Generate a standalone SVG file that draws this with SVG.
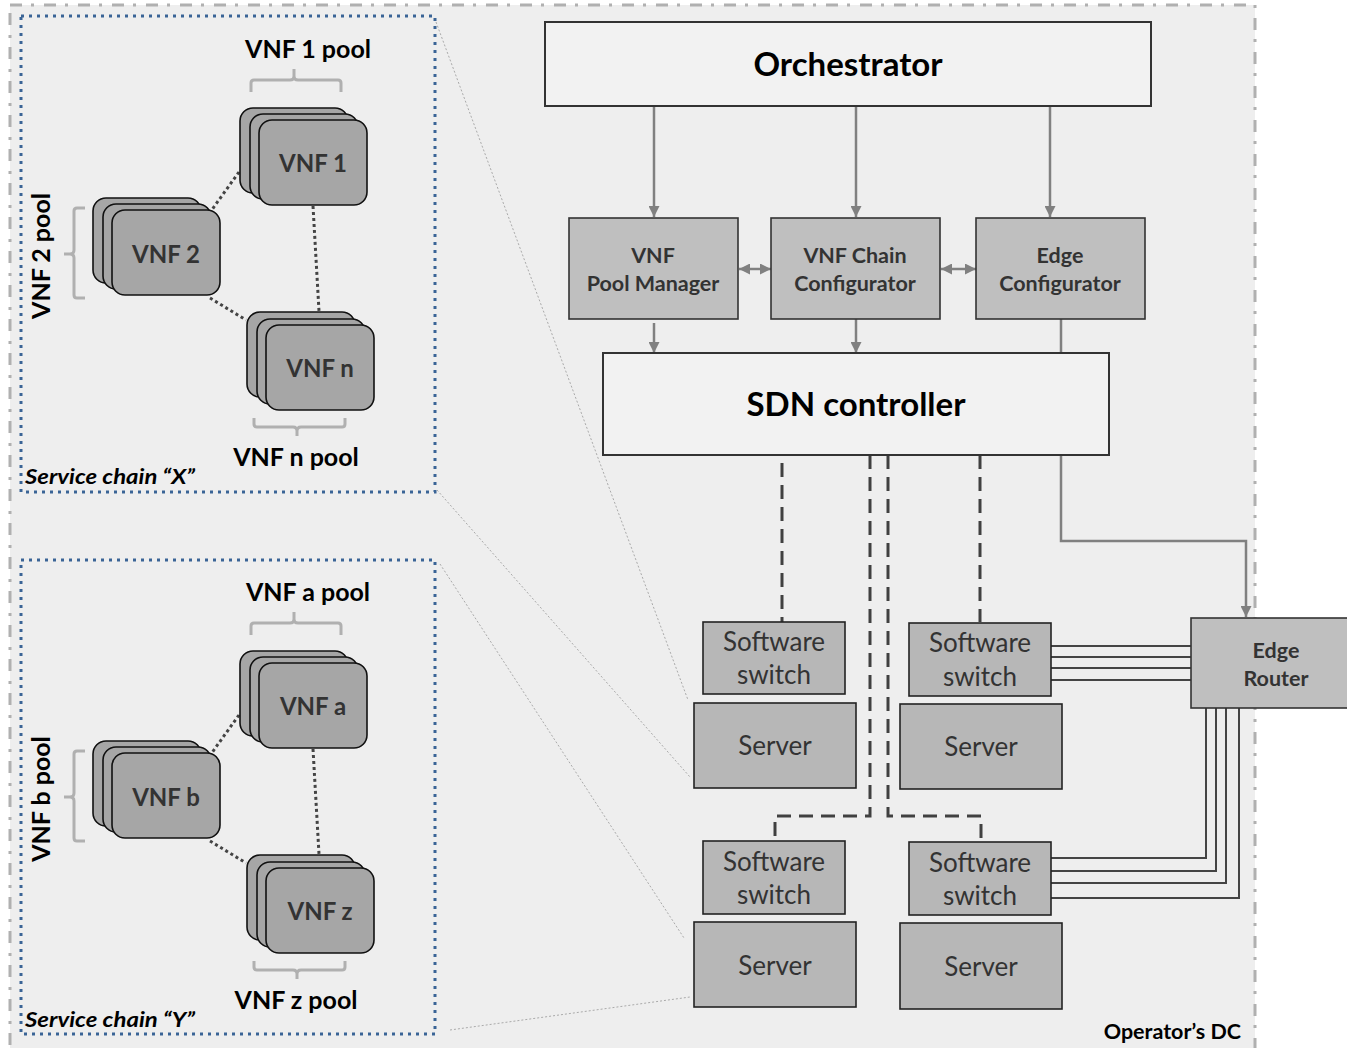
<svg xmlns="http://www.w3.org/2000/svg" width="1347" height="1048" viewBox="0 0 1347 1048">
<defs>
<style>
.t{font-family:Lato,"Open Sans","Liberation Sans",sans-serif}
.b{font-weight:bold}
.blk{fill:#000}
.dk{fill:#333}
.vnf{fill:#a6a6a6;stroke:#111;stroke-width:1.6}
.mod{fill:#bfbfbf;stroke:#333;stroke-width:1.6}
.hw{fill:#b7b7b7;stroke:#222;stroke-width:1.6}
.wb{fill:#f2f2f2;stroke:#333;stroke-width:2}
.chain{fill:none;stroke:#3a6496;stroke-width:3;stroke-dasharray:3 5}
.brace{fill:none;stroke:#b0b0b0;stroke-width:3}
.dot{fill:none;stroke:#444;stroke-width:3;stroke-dasharray:3 3}
.arr{fill:none;stroke:#808080;stroke-width:2.5}
.dash{fill:none;stroke:#404040;stroke-width:3;stroke-dasharray:14 8}
.wire{fill:none;stroke:#444;stroke-width:2}
.zoom{fill:none;stroke:#aaa;stroke-width:1;stroke-dasharray:2 2}
</style>
<marker id="ah" viewBox="0 0 10 10" refX="10" refY="5" markerWidth="11" markerHeight="11" markerUnits="userSpaceOnUse" orient="auto-start-reverse">
<path d="M0,0 L10,5 L0,10 Z" fill="#808080"/>
</marker>
</defs>
<rect x="0" y="0" width="1347" height="1048" fill="#fff"/>
<rect x="10" y="5" width="1245" height="1060" fill="#eeeeee" stroke="#b0b0b0" stroke-width="3" stroke-dasharray="12 9 3 10"/>

<g id="zoomlines">
<line class="zoom" x1="436" y1="22" x2="688" y2="700"/>
<line class="zoom" x1="437" y1="490" x2="690" y2="777"/>
<line class="zoom" x1="440" y1="564" x2="684" y2="938"/>
<line class="zoom" x1="450" y1="1030" x2="690" y2="997"/>
</g>

<g id="chain-x">
<rect class="chain" x="21" y="16" width="414" height="476"/>
<text class="t b" x="25" y="484" font-size="21" font-style="italic" fill="#000" textLength="170" lengthAdjust="spacingAndGlyphs">Service chain “X”</text>
</g>
<g id="chain-y">
<rect class="chain" x="21" y="560" width="414" height="474"/>
<text class="t b" x="25" y="1027" font-size="21" font-style="italic" fill="#000" textLength="170" lengthAdjust="spacingAndGlyphs">Service chain “Y”</text>
</g>

<g id="vnf-connectors">
<line class="dot" x1="239" y1="172" x2="211" y2="211"/>
<line class="dot" x1="313" y1="206" x2="319" y2="311"/>
<line class="dot" x1="210" y1="298" x2="246" y2="320"/>
<line class="dot" x1="239" y1="715" x2="211" y2="754"/>
<line class="dot" x1="313" y1="749" x2="319" y2="854"/>
<line class="dot" x1="210" y1="841" x2="246" y2="863"/>
</g>

<g id="vnf1">
<rect class="vnf" x="240" y="108" width="108" height="85" rx="13"/>
<rect class="vnf" x="250" y="114" width="108" height="85" rx="13"/>
<rect class="vnf" x="259" y="120" width="108" height="85" rx="13"/>
<text class="t b dk" x="313" y="172" font-size="24" text-anchor="middle">VNF 1</text>
</g>
<g id="vnf1-pool">
<path class="brace" d="M251,92 V83 Q251,80 254,80 H290 Q294,80 294,76 V69 M294,76 Q294,80 298,80 H338 Q341,80 341,83 V92"/>
<text class="t b blk" x="308" y="58" font-size="25" text-anchor="middle">VNF 1 pool</text>
</g>
<g id="vnf2">
<rect class="vnf" x="93" y="198" width="108" height="85" rx="13"/>
<rect class="vnf" x="103" y="204" width="108" height="85" rx="13"/>
<rect class="vnf" x="112" y="210" width="108" height="85" rx="13"/>
<text class="t b dk" x="166" y="263" font-size="24" text-anchor="middle">VNF 2</text>
</g>
<g id="vnf2-pool">
<path class="brace" d="M85,208 H77 Q74,208 74,211 V250 Q74,254 70,254 H64 M70,254 Q74,254 74,258 V295 Q74,298 77,298 H85"/>
<text class="t b blk" transform="translate(50,256) rotate(-90)" font-size="25" text-anchor="middle">VNF 2 pool</text>
</g>
<g id="vnfn">
<rect class="vnf" x="247" y="312" width="108" height="85" rx="13"/>
<rect class="vnf" x="257" y="319" width="108" height="85" rx="13"/>
<rect class="vnf" x="266" y="325" width="108" height="85" rx="13"/>
<text class="t b dk" x="320" y="377" font-size="24" text-anchor="middle">VNF n</text>
</g>
<g id="vnfn-pool">
<path class="brace" d="M254,418 V424 Q254,427 257,427 H293 Q297,427 297,431 V436 M297,431 Q297,427 301,427 H342 Q345,427 345,424 V418"/>
<text class="t b blk" x="296" y="466" font-size="25" text-anchor="middle">VNF n pool</text>
</g>

<g id="vnfa">
<rect class="vnf" x="240" y="651" width="108" height="85" rx="13"/>
<rect class="vnf" x="250" y="657" width="108" height="85" rx="13"/>
<rect class="vnf" x="259" y="663" width="108" height="85" rx="13"/>
<text class="t b dk" x="313" y="715" font-size="24" text-anchor="middle">VNF a</text>
</g>
<g id="vnfa-pool">
<path class="brace" d="M251,635 V626 Q251,623 254,623 H290 Q294,623 294,619 V612 M294,619 Q294,623 298,623 H338 Q341,623 341,626 V635"/>
<text class="t b blk" x="308" y="601" font-size="25" text-anchor="middle">VNF a pool</text>
</g>
<g id="vnfb">
<rect class="vnf" x="93" y="741" width="108" height="85" rx="13"/>
<rect class="vnf" x="103" y="747" width="108" height="85" rx="13"/>
<rect class="vnf" x="112" y="753" width="108" height="85" rx="13"/>
<text class="t b dk" x="166" y="806" font-size="24" text-anchor="middle">VNF b</text>
</g>
<g id="vnfb-pool">
<path class="brace" d="M85,751 H77 Q74,751 74,754 V793 Q74,797 70,797 H64 M70,797 Q74,797 74,801 V838 Q74,841 77,841 H85"/>
<text class="t b blk" transform="translate(50,799) rotate(-90)" font-size="25" text-anchor="middle">VNF b pool</text>
</g>
<g id="vnfz">
<rect class="vnf" x="247" y="855" width="108" height="85" rx="13"/>
<rect class="vnf" x="257" y="862" width="108" height="85" rx="13"/>
<rect class="vnf" x="266" y="868" width="108" height="85" rx="13"/>
<text class="t b dk" x="320" y="920" font-size="24" text-anchor="middle">VNF z</text>
</g>
<g id="vnfz-pool">
<path class="brace" d="M254,961 V967 Q254,970 257,970 H293 Q297,970 297,974 V979 M297,974 Q297,970 301,970 H342 Q345,970 345,967 V961"/>
<text class="t b blk" x="296" y="1009" font-size="25" text-anchor="middle">VNF z pool</text>
</g>

<g id="connectors">
<line class="arr" x1="654" y1="106" x2="654" y2="217" marker-end="url(#ah)"/>
<line class="arr" x1="856" y1="106" x2="856" y2="217" marker-end="url(#ah)"/>
<line class="arr" x1="1050" y1="106" x2="1050" y2="217" marker-end="url(#ah)"/>
<line class="arr" x1="739" y1="269" x2="771" y2="269" marker-start="url(#ah)" marker-end="url(#ah)"/>
<line class="arr" x1="941" y1="269" x2="976" y2="269" marker-start="url(#ah)" marker-end="url(#ah)"/>
<line class="arr" x1="654" y1="323" x2="654" y2="353" marker-end="url(#ah)"/>
<line class="arr" x1="856" y1="319" x2="856" y2="353" marker-end="url(#ah)"/>
<polyline class="arr" points="1061,319 1061,541 1246,541 1246,617" marker-end="url(#ah)"/>
<line class="dash" x1="782" y1="463" x2="782" y2="622"/>
<line class="dash" x1="980" y1="455" x2="980" y2="622"/>
<polyline class="dash" points="870,455 870,816 775,816 775,841"/>
<polyline class="dash" points="888,455 888,816 981,816 981,842"/>
<g class="wires">
<line class="wire" x1="1051" y1="646" x2="1191" y2="646"/>
<line class="wire" x1="1051" y1="657" x2="1191" y2="657"/>
<line class="wire" x1="1051" y1="668" x2="1191" y2="668"/>
<line class="wire" x1="1051" y1="680" x2="1191" y2="680"/>
<polyline class="wire" points="1206,708 1206,858 1051,858"/>
<polyline class="wire" points="1216,708 1216,871 1051,871"/>
<polyline class="wire" points="1226,708 1226,883 1051,883"/>
<polyline class="wire" points="1239,708 1239,898 1051,898"/>
</g>
</g>

<g id="orchestrator">
<rect class="wb" x="545" y="22" width="606" height="84"/>
<text class="t b blk" x="848" y="76" font-size="33" text-anchor="middle">Orchestrator</text>
</g>
<g id="pool-manager">
<rect class="mod" x="569" y="218" width="169" height="101"/>
<text class="t b dk" x="653" y="263" font-size="21.5" text-anchor="middle">VNF</text>
<text class="t b dk" x="653" y="291" font-size="21.5" text-anchor="middle">Pool Manager</text>
</g>
<g id="chain-configurator">
<rect class="mod" x="771" y="218" width="169" height="101"/>
<text class="t b dk" x="855" y="263" font-size="21.5" text-anchor="middle">VNF Chain</text>
<text class="t b dk" x="855" y="291" font-size="21.5" text-anchor="middle">Configurator</text>
</g>
<g id="edge-configurator">
<rect class="mod" x="976" y="218" width="169" height="101"/>
<text class="t b dk" x="1060" y="263" font-size="21.5" text-anchor="middle">Edge</text>
<text class="t b dk" x="1060" y="291" font-size="21.5" text-anchor="middle">Configurator</text>
</g>
<g id="sdn-controller">
<rect class="wb" x="603" y="353" width="506" height="102"/>
<text class="t b blk" x="856" y="416" font-size="33" text-anchor="middle">SDN controller</text>
</g>

<g id="switch1">
<rect class="hw" x="703" y="622" width="142" height="72"/>
<text class="t dk" x="774" y="651" font-size="26" text-anchor="middle">Software</text>
<text class="t dk" x="774" y="684" font-size="26" text-anchor="middle">switch</text>
</g>
<g id="server1">
<rect class="hw" x="694" y="703" width="162" height="85"/>
<text class="t dk" x="775" y="755" font-size="26" text-anchor="middle">Server</text>
</g>
<g id="switch2">
<rect class="hw" x="909" y="623" width="142" height="73"/>
<text class="t dk" x="980" y="652" font-size="26" text-anchor="middle">Software</text>
<text class="t dk" x="980" y="686" font-size="26" text-anchor="middle">switch</text>
</g>
<g id="server2">
<rect class="hw" x="900" y="704" width="162" height="85"/>
<text class="t dk" x="981" y="756" font-size="26" text-anchor="middle">Server</text>
</g>
<g id="switch3">
<rect class="hw" x="703" y="841" width="142" height="73"/>
<text class="t dk" x="774" y="871" font-size="26" text-anchor="middle">Software</text>
<text class="t dk" x="774" y="904" font-size="26" text-anchor="middle">switch</text>
</g>
<g id="server3">
<rect class="hw" x="694" y="922" width="162" height="85"/>
<text class="t dk" x="775" y="975" font-size="26" text-anchor="middle">Server</text>
</g>
<g id="switch4">
<rect class="hw" x="909" y="842" width="142" height="73"/>
<text class="t dk" x="980" y="872" font-size="26" text-anchor="middle">Software</text>
<text class="t dk" x="980" y="905" font-size="26" text-anchor="middle">switch</text>
</g>
<g id="server4">
<rect class="hw" x="900" y="923" width="162" height="86"/>
<text class="t dk" x="981" y="976" font-size="26" text-anchor="middle">Server</text>
</g>
<g id="edge-router">
<rect class="mod" x="1191" y="618" width="170" height="90"/>
<text class="t b dk" x="1276" y="658" font-size="21.5" text-anchor="middle">Edge</text>
<text class="t b dk" x="1276" y="686" font-size="21.5" text-anchor="middle">Router</text>
</g>
<text id="dc-label" class="t b blk" x="1241" y="1039" font-size="21.5" text-anchor="end">Operator’s DC</text>
</svg>
